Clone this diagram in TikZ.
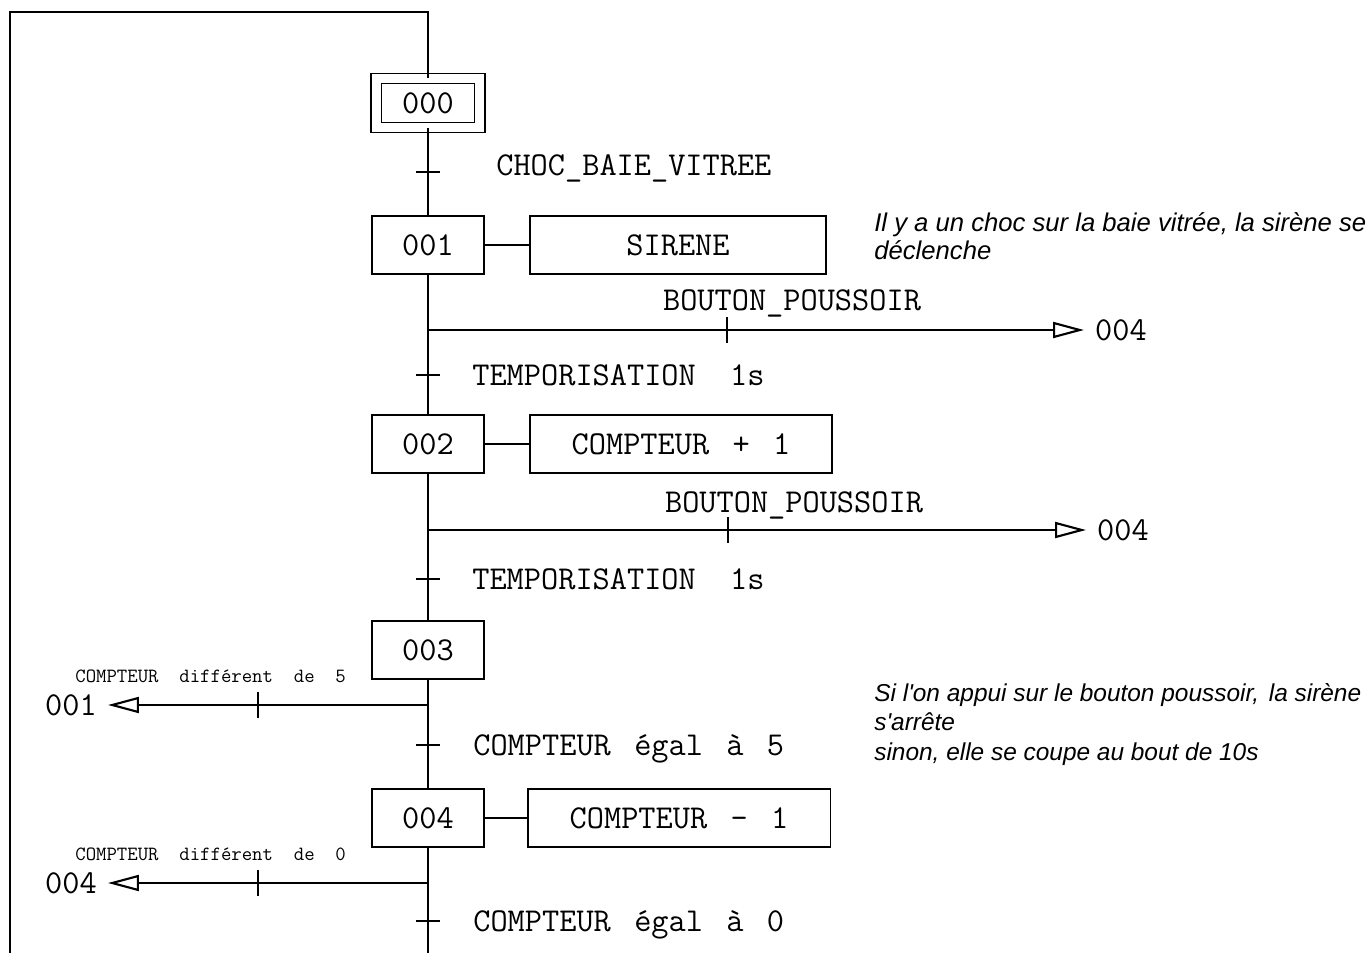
\documentclass[tikz,border=0pt]{standalone}
\usepackage{fontspec}
\newfontfamily\notefont{Liberation Sans}
\usetikzlibrary{arrows.meta}

\newcommand{\grafcet}{\ttfamily\fontsize{19}{22}\selectfont}
\newcommand{\petit}{\ttfamily\fontsize{11.5}{14}\selectfont}
\newcommand{\gap}{\hspace{0.7em}}

\tikzset{
  etape/.style={draw, line width=1.1pt, minimum width=2.24cm, minimum height=1.16cm, font=\grafcet},
  action/.style={draw, line width=1.1pt, minimum height=1.16cm, font=\grafcet},
  recep/.style={font=\grafcet, inner sep=0pt},
  cond/.style={font=\petit, inner sep=0pt, anchor=base west},
  lien/.style={line width=1.1pt},
  fin/.style={line width=0.75pt},
  renvoi/.style={line width=0.75pt, shorten >=0.1cm, -{Triangle[open, length=0.62cm, width=0.32cm, line width=1.2pt]}},
  note/.style={font=\notefont\itshape\fontsize{14.6}{16}\selectfont, align=left, anchor=north west, inner sep=0pt},
}

\begin{document}
\begin{tikzpicture}[x=0.02cm, y=-0.02cm]
\useasboundingbox (0,0) rectangle (1370,953);

% etapes et actions
\node[etape, double, line width=0.8pt, double distance=0.18cm, minimum width=2.07cm, minimum height=0.98cm] (s0) at (428,103) {000};
\node[etape] (s1) at (428,245) {001};
\node[etape] (s2) at (428,444) {002};
\node[etape] (s3) at (428,650) {003};
\node[etape] (s4) at (428,818) {004};

\node[action, minimum width=5.92cm] (a1) at (678,245) {SIRENE};
\node[action, minimum width=6.04cm] (a2) at (681,444) {COMPTEUR\gap+\gap1};
\node[action, minimum width=6.06cm] (a4) at (679,818) {COMPTEUR\gap-\gap1};

\draw[fin] (s1.east) -- (a1.west);
\draw[fin] (s2.east) -- (a2.west);
\draw[fin] (s4.east) -- (a4.west);

% boucle de retour vers l'etape initiale
\coordinate (haut) at (428,12);
\coordinate (coin) at (10,12);
\coordinate (bas) at (10,953);
\coordinate (sortie) at (428,953);
\draw[lien] (s0.north) -- (haut) -- (coin) -- (bas);

% liaisons verticales
\draw[lien] (s0.south) -- (s1.north);
\draw[lien] (s1.south) -- (s2.north);
\draw[lien] (s2.south) -- (s3.north);
\draw[lien] (s3.south) -- (s4.north);
\draw[lien] (s4.south) -- (sortie);

% transitions
\coordinate (t0) at (428,172);
\coordinate (t1) at (428,375);
\coordinate (t2) at (428,579);
\coordinate (t3) at (428,745);
\coordinate (t4) at (428,921);
\foreach \t in {t0,t1,t2,t3,t4}
  \draw[lien] (\t) ++(-12,0) -- ++(24,0);

\node[recep, anchor=base west] (c0) at (496,175) {CHOC\_BAIE\_VITREE};
\node[recep, anchor=base west] (c1) at (472,385) {TEMPORISATION~~1s};
\node[recep, anchor=base west] (c2) at (472,589) {TEMPORISATION~~1s};
\node[recep, anchor=base west] (c3) at (473,755) {COMPTEUR\gap égal\gap à\gap 5};
\node[recep, anchor=base west] (c4) at (473,931) {COMPTEUR\gap égal\gap à\gap 0};

% renvois vers d'autres etapes
\coordinate (b1) at (428,330);
\coordinate (b2) at (428,530);
\coordinate (b3) at (428,705);
\coordinate (b4) at (428,883);
\node[font=\grafcet, anchor=west] (r1) at (1089,330) {004};
\node[font=\grafcet, anchor=west] (r2) at (1091,530) {004};
\node[font=\grafcet, anchor=east] (r3) at (103,705) {001};
\node[font=\grafcet, anchor=east] (r4) at (103,883) {004};
\draw[renvoi] (b1) -- (r1.west);
\draw[renvoi] (b2) -- (r2.west);
\draw[renvoi] (b3) -- (r3.east);
\draw[renvoi] (b4) -- (r4.east);

\coordinate (k1) at (727,330);
\coordinate (k2) at (728,530);
\coordinate (k3) at (258,705);
\coordinate (k4) at (258,883);
\foreach \k in {k1,k2,k3,k4}
  \draw[lien] (\k) ++(0,-13) -- ++(0,26);

\node[recep, anchor=base] (p1) at (792,310) {BOUTON\_POUSSOIR};
\node[recep, anchor=base] (p2) at (794,512) {BOUTON\_POUSSOIR};
\node[cond] (d3) at (75,682) {COMPTEUR\ \ différent\ \ de\ \ 5};
\node[cond] (d4) at (75,860) {COMPTEUR\ \ différent\ \ de\ \ 0};

% commentaires
\node[note] (n1) at (874,212) {Il y a un choc sur la baie vitrée, la sirène se\\déclenche};
\node[note, font=\notefont\itshape\fontsize{13.9}{16.7}\selectfont] (n2) at (874,683)
  {Si l'on appui sur le bouton poussoir,\hspace{0.4em}la sirène\\s'arrête\\sinon, elle se coupe au bout de 10s};
\end{tikzpicture}
\end{document}
